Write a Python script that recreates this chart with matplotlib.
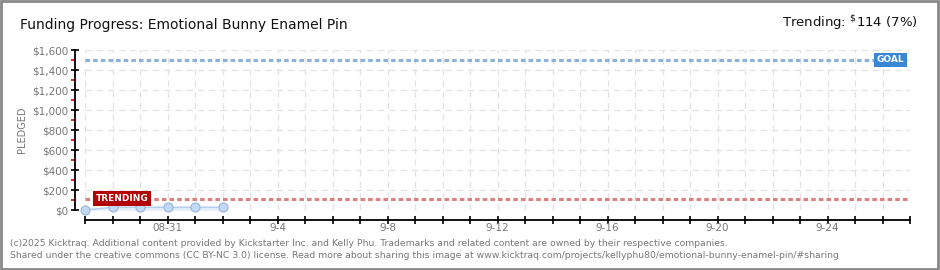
import matplotlib
matplotlib.use("Agg")
import matplotlib.pyplot as plt
from matplotlib.patches import Rectangle

# data
days = [0, 1, 2, 3, 4, 5]
pledged = [0, 27, 27, 27, 27, 27]
goal = 1500
trending = 114
n_days = 30
tick_pos = [3, 7, 11, 15, 19, 23, 27]
tick_labels = ["08-31", "9-4", "9-8", "9-12", "9-16", "9-20", "9-24"]
ymajor = list(range(0, 1601, 200))
yminor = list(range(100, 1600, 200))

fig = plt.figure(figsize=(9.4, 2.7), dpi=100)
ax = fig.add_axes([85 / 940, 60 / 270, 825 / 940, 160 / 270])

# outer border
fig.patches.append(Rectangle((0.001, 0.002), 0.997, 0.994, transform=fig.transFigure,
                             fill=False, edgecolor="#888888", linewidth=2))

ax.set_xlim(0, n_days)
ax.set_ylim(0, 1600)

# grid
for d in range(n_days + 1):
    ax.axvline(d, color="#e2e2e2", linestyle=(0, (5, 4)), linewidth=0.9, zorder=0)
for v in ymajor:
    ax.axhline(v, color="#e2e2e2", linestyle=(0, (5, 4)), linewidth=0.9, zorder=0)

# goal / trending lines
ax.axhline(goal, color="#8cb2dc", linestyle=(0, (1.5, 1)), linewidth=2.2, zorder=2)
ax.axhline(trending, color="#d98282", linestyle=(0, (1.5, 1)), linewidth=2.2, zorder=2)

# pledged series
ax.fill_between(days, pledged, color="#e6effa", zorder=2)
ax.plot(days, pledged, color="#b7cfee", linewidth=1.2, zorder=3)
ax.plot(days, pledged, "o", markersize=6.5, markerfacecolor="#c3d8f4",
        markeredgecolor="#95b4dc", markeredgewidth=0.8, zorder=4, clip_on=False)

# labels on lines
ax.text(29.8, goal, "GOAL", color="white", fontsize=6.5, fontweight="bold",
        ha="right", va="center", zorder=5,
        bbox=dict(boxstyle="square,pad=0.3", facecolor="#3a87d6", edgecolor="none"))
ax.text(0.4, trending, "TRENDING", color="white", fontsize=6.5, fontweight="bold",
        ha="left", va="center", zorder=5,
        bbox=dict(boxstyle="square,pad=0.3", facecolor="#b30000", edgecolor="none"))

# spines
for s in ["top", "right"]:
    ax.spines[s].set_visible(False)
ax.spines["left"].set_position(("outward", 7.2))
ax.spines["bottom"].set_position(("outward", 7.2))
ax.spines["left"].set_linewidth(1.3)
ax.spines["bottom"].set_linewidth(1.3)

ax.set_yticks(ymajor)
ax.set_yticklabels(["$" + format(v, ",") for v in ymajor])
ax.set_yticks(yminor, minor=True)
ax.tick_params(axis="y", which="major", length=6, width=1.2, direction="inout",
               labelsize=7.5, labelcolor="#777777", pad=2)
ax.tick_params(axis="y", which="minor", length=3, width=1.2, color="#dd0000",
               direction="out")

ax.set_xticks(range(n_days + 1))
ax.set_xticklabels(["" for d in range(n_days + 1)])
ax.tick_params(axis="x", which="major", length=6, width=1.2, direction="inout")
for p, lab in zip(tick_pos, tick_labels):
    ax.text(p, -0.115, lab, transform=ax.get_xaxis_transform(), ha="center", va="center",
            fontsize=7.5, color="#777777")

fig.text(22 / 940, 1 - 130 / 270, "PLEDGED", fontsize=7, color="#777777",
         rotation=90, ha="center", va="center")

fig.text(20 / 940, 1 - 25 / 270, "Funding Progress: Emotional Bunny Enamel Pin",
         fontsize=10, color="#111111", ha="left", va="center")
fig.text(918 / 940, 1 - 23 / 270, r"Trending: $^{\$}$114 (7%)",
         fontsize=9.5, color="#111111", ha="right", va="center")

fig.text(10 / 940, 1 - 243 / 270,
         "(c)2025 Kicktraq. Additional content provided by Kickstarter Inc. and Kelly Phu. "
         "Trademarks and related content are owned by their respective companies.",
         fontsize=6.7, color="#777777", ha="left", va="center")
fig.text(10 / 940, 1 - 256 / 270,
         "Shared under the creative commons (CC BY-NC 3.0) license. Read more about sharing "
         "this image at www.kicktraq.com/projects/kellyphu80/emotional-bunny-enamel-pin/#sharing",
         fontsize=6.7, color="#777777", ha="left", va="center")

fig.savefig("out.png", dpi=100)
